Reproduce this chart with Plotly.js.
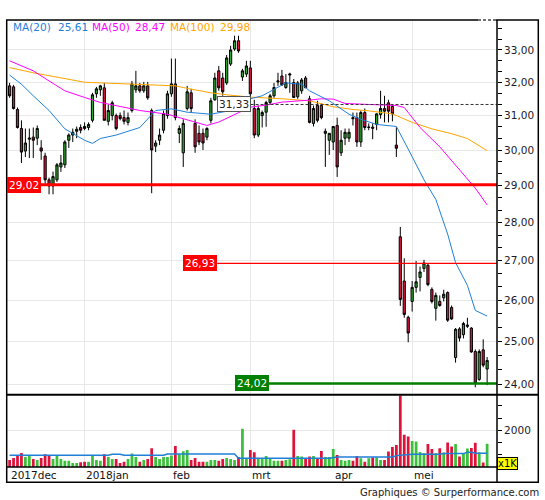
<!DOCTYPE html>
<html><head><meta charset="utf-8">
<script src="https://cdn.plot.ly/plotly-3.0.1.min.js"></script>
<style>html,body{margin:0;padding:0;background:#fff}#chart{width:545px;height:500px}</style>
</head><body><div id="chart"></div>
<script>
// ---- trading days (categories) ----
const daysDec2017 = [1,4,5,6,7,8,11,12,13,14,15,18,19,20,21,22,27,28,29];
const daysJan2018 = [2,3,4,5,8,9,10,11,12,15,16,17,18,19,22,23,24,25,26,29,30,31];
const daysFeb2018 = [1,2,5,6,7,8,9,12,13,14,15,16,19,20,21,22,23,26,27,28];
const daysMar2018 = [1,2,5,6,7,8,9,12,13,14,15,16,19,20,21,22,23,26,27,28,29];
const daysApr2018 = [3,4,5,6,9,10,11,12,13,16,17,18,19,20,23,24,25,26,27,30];
const daysMay2018 = [2,3,4,7,8,9,10,11,14,15,16,17,18,21,22,23,24,25,28,29];

const monthLabels = ['2017dec','2018jan','feb','mrt','apr','mei'];
const monthStarts = ['2017-12-01','2018-01-02','2018-02-01','2018-03-01','2018-04-03','2018-05-02'];

// ---- OHLC ----
const openP = [31.89,31.86,31.18,30.62,29.97,30.31,30.37,30.34,30.06,29.83,
29.16,28.99,29.16,29.52,29.58,30.28,30.43,30.54,30.65,30.68,
30.65,30.86,31.65,31.77,31.83,30.83,31.00,31.00,31.00,30.94,
30.80,31.15,31.77,31.89,31.74,31.89,31.15,30.11,30.28,30.57,
31.00,31.65,31.95,30.48,29.92,31.21,31.68,30.77,30.48,30.48,
30.37,30.86,31.47,32.35,32.13,31.98,32.56,33.03,33.29,32.16,
32.25,32.44,31.21,30.43,31.00,31.10,31.39,31.59,32.01,32.19,
31.84,32.22,31.99,31.56,31.74,32.13,31.50,30.77,31.30,31.30,
30.48,30.28,30.23,30.71,29.92,30.34,30.34,30.94,30.94,30.23,
31.09,30.65,30.66,30.74,31.03,31.21,31.38,31.27,30.14,27.62,
26.48,25.58,25.97,26.32,26.57,26.80,26.88,26.27,25.80,25.97,
26.06,26.19,25.82,24.62,25.30,25.16,25.36,25.32,24.76,24.11,
24.80,24.35];
const highP = [31.98,31.92,31.24,30.86,30.62,30.62,30.65,30.71,30.28,29.92,
29.22,29.39,29.63,29.86,30.28,30.48,30.62,30.68,30.74,30.80,
30.80,31.68,31.86,31.92,31.98,31.33,31.44,31.06,31.09,31.15,
31.09,32.04,32.35,31.98,32.01,32.01,31.21,30.28,30.62,31.15,
31.74,32.73,32.73,30.71,30.89,31.89,31.80,30.89,30.71,30.62,
30.66,31.53,32.29,32.50,32.29,32.84,33.13,33.45,33.45,32.41,
32.66,32.66,31.47,31.30,31.15,31.44,31.65,31.98,32.29,32.38,
32.25,32.29,32.10,32.04,32.13,32.19,31.59,31.30,31.44,31.36,
30.62,30.48,30.68,30.94,30.57,30.62,30.62,31.09,31.09,31.15,
31.21,30.77,30.77,31.07,31.74,31.59,31.47,31.33,30.66,27.88,
27.06,25.62,26.48,26.99,26.85,27.02,26.92,26.32,26.19,26.12,
26.26,26.22,25.87,25.32,25.34,25.47,25.57,25.34,24.81,24.81,
25.05,24.63];
const lowP = [31.53,31.18,30.62,29.63,29.80,29.77,29.77,30.14,29.72,29.05,
28.76,28.76,29.10,29.38,29.49,30.06,30.23,30.34,30.48,30.57,
30.57,30.80,31.53,31.59,30.86,30.71,30.86,30.57,30.86,30.74,
30.71,31.09,31.68,31.68,31.68,31.47,28.79,29.94,30.14,30.48,
30.91,31.56,30.86,30.20,29.52,31.15,31.09,29.92,30.14,30.00,
30.28,30.77,31.44,31.74,31.59,31.92,32.50,32.97,32.91,32.04,
32.16,31.50,30.34,30.37,30.65,30.67,31.33,31.53,31.89,31.89,
31.80,31.68,31.53,31.50,31.65,31.83,30.77,30.68,30.80,30.89,
29.52,29.86,30.00,29.24,29.83,30.14,30.23,30.71,30.09,30.09,
30.57,30.57,30.31,30.57,30.91,30.80,30.80,30.83,29.80,25.86,
25.57,24.98,25.72,26.19,26.22,26.71,26.35,25.92,25.50,25.84,
25.97,25.47,25.52,24.50,25.00,25.07,25.32,24.73,23.93,24.08,
24.39,23.98];
const closeP = [31.59,31.21,30.65,29.94,30.20,30.34,30.28,30.62,29.97,29.16,
28.99,29.25,29.58,29.63,30.23,30.43,30.51,30.60,30.57,30.62,
30.74,31.62,31.80,31.89,30.86,31.15,31.38,30.62,30.91,30.83,
30.94,31.95,31.89,31.74,31.89,31.53,30.00,30.20,30.43,31.06,
31.65,31.95,30.94,30.62,30.77,31.71,31.21,30.09,30.23,30.20,
30.62,31.44,32.13,31.83,31.71,32.75,33.00,33.29,32.97,32.35,
32.50,31.65,30.43,31.21,31.09,31.39,31.59,31.84,32.04,31.92,
31.99,32.25,31.54,31.98,32.07,31.83,30.80,31.21,30.86,30.94,
30.54,30.48,30.68,29.52,30.28,30.51,30.51,30.91,30.23,31.09,
30.65,30.66,30.63,31.05,31.21,31.13,31.13,31.05,30.05,26.02,
25.65,25.20,26.32,26.46,26.71,26.94,26.39,25.97,26.12,25.87,
26.15,25.51,25.54,25.29,25.08,25.43,25.39,24.75,24.02,24.76,
24.44,24.55];

// ---- volume (x1K) ----
const volume = [384,493,621,767,548,621,438,384,493,694,
621,438,621,438,347,347,219,219,256,292,
292,621,384,347,694,548,438,438,219,292,
438,731,548,292,384,438,1023,548,438,548,
548,621,1151,694,859,932,384,493,292,292,
292,384,384,347,438,493,438,384,548,2083,
450,931,804,475,475,603,475,347,347,347,
384,420,2028,603,566,475,566,603,475,877,
548,548,987,658,384,347,384,347,603,475,
292,475,512,512,384,384,840,1096,1206,3950,
1754,1663,1425,1388,822,749,1260,986,749,1023,
786,1334,1114,1261,566,749,1015,1035,1322,786,
249,1265];
const volMaDay = [1,26,27,29,30,40,41,58,59,82,84,98,99,101,103,110,111,116,117,118,119,122];
const volMa    = [641,641,694,694,641,641,712,712,475,475,548,548,621,658,694,694,731,731,804,804,749,749];

// ---- moving averages (trading-day number, value) ----
const ma20Day = [1,4,7,11,15,20,22,24,28,34,36,38,42,46,52,57,60,62,65,68,71,75,77,82,87,90,94,99,100,103,106,109,112,114,117,119,122];
const ma20    = [32.22,31.94,31.59,31.15,30.61,30.28,30.19,30.33,30.43,30.65,30.90,31.15,31.20,31.10,31.04,31.15,31.30,31.50,31.59,31.79,31.98,31.94,31.74,31.44,31.04,30.89,30.74,30.68,30.47,29.81,29.16,28.62,27.69,26.95,26.37,25.75,25.61];
const ma50Day = [1,7,11,15,20,24,29,34,41,45,51,54,58,62,66,70,77,80,83,86,92,99,101,105,110,115,119,122];
const ma50    = [32.66,32.35,32.04,31.74,31.54,31.39,31.27,31.15,31.04,30.91,30.71,30.81,31.04,31.25,31.31,31.40,31.46,31.50,31.49,31.36,31.33,31.30,31.24,30.65,30.09,29.44,28.93,28.47];
const ma100Day = [1,7,20,32,43,47,52,56,62,70,77,83,88,92,98,103,108,113,117,122];
const ma100    = [32.45,32.29,32.00,31.94,31.89,31.79,31.68,31.62,31.55,31.50,31.44,31.26,31.18,31.14,31.05,30.80,30.61,30.47,30.33,29.98];

// ---- horizontal levels ----
const levelValues = [29.02, 26.93, 24.02, 31.33];
const priceTicks = [24,25,26,27,28,29,30,31,32,33];
const volTicks = [2000];

// ================= build =================
const dates = [];
[['2017-12',daysDec2017],['2018-01',daysJan2018],['2018-02',daysFeb2018],
 ['2018-03',daysMar2018],['2018-04',daysApr2018],['2018-05',daysMay2018]]
  .forEach(([m, days]) => days.forEach(d => dates.push(m + '-' + String(d).padStart(2,'0'))));
const idx = d => dates.indexOf(d);
const fmt = v => v.toFixed(2).replace('.', ',');

const W = 545, H = 500, L = 7, R = 48, T = 20, B = 33;
const pw = W - L - R, ph = H - T - B;
const px = x => (x - L) / pw;
const py = y => (H - B - y) / ph;

const GREEN = '#2fa82f', RED = '#dc143c';
const VGREEN = '#3cc03c';
const FONT = 'DejaVu Sans';

const xRange = [-0.66, 123.5];
const yLogRange = [1.375972, 1.530904];

const traces = [];
traces.push({
  type: 'candlestick', x: dates, open: openP, high: highP, low: lowP, close: closeP,
  xaxis: 'x', yaxis: 'y', whiskerwidth: 0, hoverinfo: 'skip',
  increasing: {line: {color: '#000', width: 1}, fillcolor: GREEN},
  decreasing: {line: {color: '#000', width: 1}, fillcolor: RED},
  showlegend: false
});
const maDefs = [[ma100Day, ma100, '#ffa500'], [ma50Day, ma50, '#ff00ff'], [ma20Day, ma20, '#1f7fd8']];
maDefs.forEach(([dd, vv, c]) => traces.push({
  type: 'scatter', mode: 'lines', x: dd.map(k => dates[k-1]), y: vv,
  xaxis: 'x', yaxis: 'y', line: {color: c, width: 1}, hoverinfo: 'skip', showlegend: false
}));
traces.push({
  type: 'bar', x: dates, y: volume, xaxis: 'x2', yaxis: 'y2',
  marker: {color: closeP.map((c, i) => c >= openP[i] ? VGREEN : RED), line: {width: 0}},
  hoverinfo: 'skip', showlegend: false
});
traces.push({
  type: 'scatter', mode: 'lines', x: volMaDay.map(k => dates[k-1]), y: volMa,
  xaxis: 'x2', yaxis: 'y2', line: {color: '#1f7fd8', width: 1.5}, hoverinfo: 'skip', showlegend: false
});

const xCommon = {
  type: 'category', categoryorder: 'array', categoryarray: dates, range: xRange,
  tickmode: 'array', tickvals: monthStarts.slice(1), showticklabels: false, ticks: '',
  showgrid: true, gridcolor: '#e8e8e8', gridwidth: 1, zeroline: false, showline: false, fixedrange: true
};

const thirds = [];
for (let v = 23 + 2/3; v < 34; v += 1/3) thirds.push(v);

const shapes = [];
const annotations = [];

const levelStyle = [
  {from: null, color: '#ff0000', width: 3, dash: 'solid', bg: '#ff0000', fg: '#fff', border: '#ff0000'},
  {from: idx('2018-02-16') + 0.62, color: '#ff0000', width: 1.2, dash: 'solid', bg: '#ff0000', fg: '#fff', border: '#ff0000'},
  {from: idx('2018-03-07') + 0.6, color: '#008000', width: 2.5, dash: 'solid', bg: '#008000', fg: '#fff', border: '#008000'},
  {from: idx('2018-03-01') + 0.05, color: '#333', width: 1, dash: '3px,2px', bg: '#fff', fg: '#222', border: '#555'}
];
levelValues.forEach((lv, i) => {
  const s = levelStyle[i];
  const lab = {yref:'y', y:Math.log10(lv), yanchor:'middle', text: fmt(lv), showarrow:false,
    bgcolor:s.bg, bordercolor:s.border, borderwidth:1, borderpad:1,
    font:{family:FONT, size:10.5, color:s.fg}};
  if (s.from === null) {
    shapes.push({type:'line', xref:'paper', yref:'y', x0:0, x1:1, y0:lv, y1:lv, line:{color:s.color, width:s.width}});
    annotations.push(Object.assign(lab, {xref:'paper', x:0, xanchor:'left'}));
  } else {
    shapes.push({type:'line', xref:'x', yref:'y', x0:s.from, x1:xRange[1], y0:lv, y1:lv, line:{color:s.color, width:s.width, dash:s.dash}});
    annotations.push(Object.assign(lab, {xref:'x', x:s.from, xanchor:'right'}));
  }
});

const frame = {color: '#000', width: 1.5};
shapes.push({type:'rect', xref:'paper', yref:'paper', x0:px(6.7), x1:px(538.3), y0:py(482.3), y1:1, line:frame});
shapes.push({type:'line', xref:'paper', yref:'paper', x0:1, x1:1, y0:py(482.3), y1:1, line:frame});
shapes.push({type:'line', xref:'paper', yref:'paper', x0:px(6.7), x1:px(538.3), y0:py(394.8), y1:py(394.8), line:{color:'#000', width:2}});
shapes.push({type:'line', xref:'paper', yref:'paper', x0:px(6.7), x1:1, y0:0, y1:0, line:frame});
shapes.push({type:'line', xref:'paper', yref:'paper', x0:px(478), x1:px(496), y0:1, y1:1, line:{color:'#fff', width:2}});
shapes.push({type:'line', xref:'paper', yref:'paper', x0:px(478), x1:px(496), y0:1, y1:1, line:{color:'#444', width:1.5, dash:'3px,2px'}});

const legendItems = [['MA(20)', ma20, '#1f7fd8', 13, 58], ['MA(50)', ma50, '#ff00ff', 92, 135], ['MA(100)', ma100, '#ffa500', 170, 220]];
legendItems.forEach(([name, arr, c, xn, xv]) => {
  annotations.push({xref:'paper', yref:'paper', x:px(xn-2), y:py(27), xanchor:'left', yanchor:'middle', showarrow:false,
    text:name, font:{family:FONT, size:10.5, color:c}});
  annotations.push({xref:'paper', yref:'paper', x:px(xv-2), y:py(27), xanchor:'left', yanchor:'middle', showarrow:false,
    text:fmt(arr[arr.length-1]), font:{family:FONT, size:10.5, color:c}});
});

monthLabels.forEach((lab, i) => annotations.push({
  xref:'x2', yref:'paper', x: idx(monthStarts[i]), y: py(475), xanchor:'left', yanchor:'middle',
  xshift: -0.5, showarrow:false, text: lab, font:{family:FONT, size:10.5, color:'#111'}
}));

annotations.push({xref:'paper', yref:'paper', x:px(507.7), y:py(463.7), xanchor:'center', yanchor:'middle', showarrow:false,
  text:'x1K', bgcolor:'#ffff00', bordercolor:'#000', borderwidth:1, borderpad:0, font:{family:FONT, size:10, color:'#000'}});
annotations.push({xref:'paper', yref:'paper', x:px(541), y:py(492), xanchor:'right', yanchor:'middle', showarrow:false,
  text:'Graphiques © Surperformance.com', font:{family:FONT, size:10, color:'#222'}});

const layout = {
  width: W, height: H, margin: {l: L, r: R, t: T, b: B, pad: 0},
  paper_bgcolor: '#fff', plot_bgcolor: '#fff', showlegend: false,
  font: {family: FONT, size: 10, color: '#111'},
  boxgap: 0.2, bargap: 0.3,
  xaxis: Object.assign({}, xCommon, {anchor: 'y', rangeslider: {visible: false}}),
  xaxis2: Object.assign({}, xCommon, {anchor: 'y2'}),
  yaxis: {
    domain: [py(394.5), 1], type: 'log', range: yLogRange, side: 'right', anchor: 'x',
    tickmode: 'array', tickvals: priceTicks, ticktext: priceTicks.map(fmt),
    ticks: 'outside', ticklen: 4, tickwidth: 1, tickcolor: '#000',
    minor: {tickmode: 'array', tickvals: thirds, ticks: 'outside', ticklen: 4, tickcolor: '#000', showgrid: false},
    showgrid: true, gridcolor: '#e8e8e8', zeroline: false, showline: false, fixedrange: true,
    tickfont: {family: FONT, size: 10.5, color: '#1a1a2a'}
  },
  yaxis2: {
    domain: [0, py(395.5)], range: [0, 3900], side: 'right', anchor: 'x2',
    tickmode: 'array', tickvals: volTicks, ticktext: volTicks.map(String),
    ticks: 'outside', ticklen: 4, tickwidth: 1, tickcolor: '#000',
    minor: {tickmode: 'array', tickvals: [666.7, 1333.3, 2666.7, 3333.3], ticks: 'outside', ticklen: 4, tickcolor: '#000', showgrid: false},
    showgrid: true, gridcolor: '#e8e8e8', zeroline: false, showline: false, fixedrange: true,
    tickfont: {family: FONT, size: 10.5, color: '#1a1a2a'}
  },
  shapes: shapes,
  annotations: annotations
};

Plotly.newPlot('chart', traces, layout, {displayModeBar: false, staticPlot: true});
</script>
</body></html>
